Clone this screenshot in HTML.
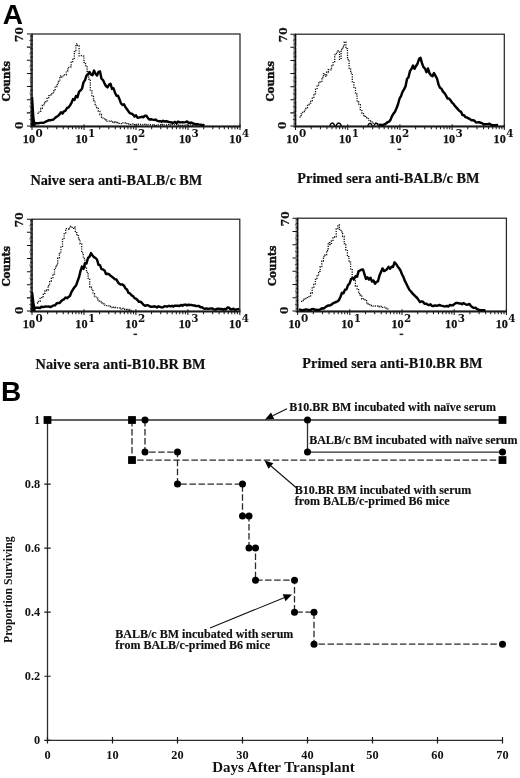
<!DOCTYPE html>
<html><head><meta charset="utf-8"><title>Figure</title>
<style>
html,body{margin:0;padding:0;background:#fff}
svg{display:block}
text{font-family:"Liberation Serif",serif;font-weight:bold;fill:#111}
.big{font-family:"Liberation Sans",sans-serif;font-weight:bold;font-size:28px;fill:#000}
.ax{font-size:12.2px;stroke:#111;stroke-width:0.25px}
.sup{font-size:10.4px;font-family:"DejaVu Serif",serif}
.rot{font-size:10.6px;font-family:"DejaVu Serif",serif;stroke:#111;stroke-width:0.25px}
.cnt{font-size:10.3px;font-family:"DejaVu Serif",serif;stroke:#111;stroke-width:0.45px}
.lab{font-size:14.3px;stroke:#111;stroke-width:0.2px}
.tk{font-size:12.3px}
.an{font-size:12px;stroke:#111;stroke-width:0.15px}
.yl{font-size:12.5px}
.xl{font-size:15px}
.dash{stroke:#2a2a2a;stroke-width:1.3;fill:none;stroke-dasharray:6.5 2.54}
</style></head><body>
<svg width="520" height="778" viewBox="0 0 520 778">
<rect width="520" height="778" fill="#fff"/>
<text x="2.8" y="24" class="big">A</text>
<text x="0.9" y="401" class="big">B</text>
<rect x="32" y="34" width="208" height="92" fill="none" stroke="#262626" stroke-width="1.25"/>
<line x1="30" y1="126.7" x2="240.6" y2="126.7" stroke="#1a1a1a" stroke-width="1.6"/>
<path d="M32 124.2v5.8M47.65 126v3.3M56.81 126v3.3M63.31 126v3.3M68.35 126v3.3M72.46 126v3.3M75.95 126v3.3M78.96 126v3.3M81.62 126v3.3M84 124.2v5.8M99.65 126v3.3M108.81 126v3.3M115.31 126v3.3M120.35 126v3.3M124.46 126v3.3M127.95 126v3.3M130.96 126v3.3M133.62 126v3.3M136 124.2v5.8M151.65 126v3.3M160.81 126v3.3M167.31 126v3.3M172.35 126v3.3M176.46 126v3.3M179.95 126v3.3M182.96 126v3.3M185.62 126v3.3M188 124.2v5.8M203.65 126v3.3M212.81 126v3.3M219.31 126v3.3M224.35 126v3.3M228.46 126v3.3M231.95 126v3.3M234.96 126v3.3M237.62 126v3.3M240 124.2v5.8" stroke="#1a1a1a" stroke-width="1.05" fill="none"/>
<path d="M32.9 124.69h-2.9M32.9 123.37h-2.9M32.9 122.06h-2.9M32.9 120.74h-2.9M32.9 119.43h-3.5M32.9 118.11h-2.9M32.9 116.8h-2.9M32.9 115.49h-2.9M32.9 114.17h-2.9M32.9 111.54h-2.9M32.9 110.23h-2.9M32.9 108.91h-2.9M32.9 107.6h-2.9M32.9 106.29h-3.5M32.9 104.97h-2.9M32.9 103.66h-2.9M32.9 102.34h-2.9M32.9 101.03h-2.9M32.9 98.4h-2.9M32.9 97.09h-2.9M32.9 95.77h-2.9M32.9 94.46h-2.9M32.9 93.14h-3.5M32.9 91.83h-2.9M32.9 90.51h-2.9M32.9 89.2h-2.9M32.9 87.89h-2.9M32.9 85.26h-2.9M32.9 83.94h-2.9M32.9 82.63h-2.9M32.9 81.31h-2.9M32.9 80h-3.5M32.9 78.69h-2.9M32.9 77.37h-2.9M32.9 76.06h-2.9M32.9 74.74h-2.9M32.9 72.11h-2.9M32.9 70.8h-2.9M32.9 69.49h-2.9M32.9 68.17h-2.9M32.9 66.86h-3.5M32.9 65.54h-2.9M32.9 64.23h-2.9M32.9 62.91h-2.9M32.9 61.6h-2.9M32.9 58.97h-2.9M32.9 57.66h-2.9M32.9 56.34h-2.9M32.9 55.03h-2.9M32.9 53.71h-3.5M32.9 52.4h-2.9M32.9 51.09h-2.9M32.9 49.77h-2.9M32.9 48.46h-2.9M32.9 45.83h-2.9M32.9 44.51h-2.9M32.9 43.2h-2.9M32.9 41.89h-2.9M32.9 40.57h-3.5M32.9 39.26h-2.9M32.9 37.94h-2.9M32.9 36.63h-2.9M32.9 35.31h-2.9" stroke="#000" stroke-width="0.78" fill="none"/>
<path d="M32.5 126h-5.6M32.5 112.86h-5.6M32.5 99.71h-5.6M32.5 86.57h-5.6M32.5 73.43h-5.6M32.5 60.29h-5.6M32.5 47.14h-5.6M32.5 34h-5.6" stroke="#111" stroke-width="1.05" fill="none"/>
<path d="M37.5 113.4H39.1V111.4H40.7V108.3H42.3V105.5H43.9V103.0H45.5V101.8H47.1V98.4H48.7V95.6H50.3V95.0H51.9V92.7H53.5V90.9H55.1V86.6H56.7V84.6H58.3V81.3H59.9V75.9H61.5V77.1H63.1V74.9H64.7V74.9H66.3V70.9H67.9V67.3H69.5V66.9H71.1V61.6H72.7V59.4H74.3V51.7H75.9V43.9H77.5V46.0H79.1V55.8H80.7V55.7H82.3V56.1H83.9V62.4H85.5V65.7H87.1V71.3H88.7V79.1H90.3V90.2H91.9V95.6H93.5V100.7H95.1V105.8H96.7V107.6H98.3V111.3H99.9V114.5H101.5V117.3H103.1V118.1H104.7V120.0H106.3V121.3H107.9V121.2H109.5V120.9H111.1V122.1H112.7V121.8H114.3V122.5H115.9V121.9H117.5V122.5H119.1V123.3H120.7V123.6H122.3V122.8H123.9V123.0H125.5V123.6H127.1V124.1H128.7V124.0H130.3V124.3H131.9V124.0H133.5V124.7H135.1V125.0H136.7V124.5H138.3V124.2H139.9V124.4H141.5V124.9H143.1V124.3H144.7V124.7H146.3V124.4H147.9V124.7H149.5V124.7H151.1V124.8H152.7V125.3H154.3V125.0H155.9V125.3H157.5V124.8H159.1V124.7H160.7V125.0H162.3V124.5H163.9V124.9H165.5V125.0H167.1V124.6H168.7V125.1H170.3V124.8H171.9V124.6H173.5V124.9H175.1V124.7H176.7V124.9H178.3V125.0H179.9V125.4H181.5V125.1H183.1V125.1H184.7V125.2H186.3V124.7H187.9V125.5H189.5V124.8H191.1V125.3H192.7V124.8H194.3V124.9H195.9V125.1H197.5V125.5" stroke="#111" stroke-width="1.3" stroke-dasharray="1.2 1.2" fill="none"/>
<path d="M34.0 122.7L35.5 123.3L37.0 123.1L38.5 123.2L40.0 122.9L41.5 122.8L43.0 122.9L44.5 122.3L46.0 121.5L47.5 120.9L49.0 120.1L50.5 120.3L52.0 119.9L53.5 119.5L55.0 118.0L56.5 116.8L58.0 116.0L59.5 114.4L61.0 112.3L62.5 113.5L64.0 111.3L65.5 110.6L67.0 108.0L68.5 107.5L70.0 105.4L71.5 102.8L73.0 99.1L74.5 99.9L76.0 96.0L77.5 97.2L79.0 91.8L80.5 90.4L82.0 88.7L83.5 82.4L85.0 80.1L86.5 75.7L88.0 74.2L89.5 72.0L91.0 74.4L92.5 75.2L94.0 70.6L95.5 73.7L97.0 75.5L98.5 72.0L100.0 71.5L101.5 78.7L103.0 80.1L104.5 83.3L106.0 86.1L107.5 87.4L109.0 84.8L110.5 83.7L112.0 88.9L113.5 88.3L115.0 92.7L116.5 95.8L118.0 95.8L119.5 99.3L121.0 103.4L122.5 105.0L124.0 104.3L125.5 107.3L127.0 109.2L128.5 111.4L130.0 113.3L131.5 113.6L133.0 114.5L134.5 116.4L136.0 115.3L137.5 117.7L139.0 117.5L140.5 117.1L142.0 116.8L143.5 117.2L145.0 115.7L146.5 115.8L148.0 118.1L149.5 119.6L151.0 119.2L152.5 119.6L154.0 119.9L155.5 119.6L157.0 120.7L158.5 121.2L160.0 121.1L161.5 121.7L163.0 120.7L164.5 121.6L166.0 121.2L167.5 121.5L169.0 122.1L170.5 122.2L172.0 122.7L173.5 122.8L175.0 121.9L176.5 123.2L178.0 121.6L179.5 122.3L181.0 122.4L182.5 122.2L184.0 122.4L185.5 122.1L187.0 121.5L188.5 122.8L190.0 122.7L191.5 122.6L193.0 123.5L194.5 123.9L196.0 124.3L197.5 124.1L199.0 124.6L200.5 124.6L202.0 125.2L203.5 125.0" stroke="#000" stroke-width="2.45" stroke-linejoin="round" stroke-linecap="round" fill="none"/>
<path d="M31.4 126V97h1.8L34.6 118L35.6 124V126z" fill="#000"/>
<text x="35" y="143.1" class="ax" text-anchor="end">10</text>
<text x="35.4" y="136.7" class="sup">0</text>
<text x="87.6" y="143.1" class="ax" text-anchor="end">10</text>
<text x="88" y="136.7" class="sup">1</text>
<text x="137.6" y="143.1" class="ax" text-anchor="end">10</text>
<text x="138" y="136.7" class="sup">2</text>
<text x="191.1" y="143.1" class="ax" text-anchor="end">10</text>
<text x="191.5" y="136.7" class="sup">3</text>
<text x="241.5" y="143.1" class="ax" text-anchor="end">10</text>
<text x="241.9" y="136.7" class="sup">4</text>
<text transform="translate(23.4,34.6) rotate(-90)" class="rot" text-anchor="middle">70</text>
<text transform="translate(22.8,125.2) rotate(-90)" class="rot" text-anchor="middle">0</text>
<text transform="translate(10.3,81.2) rotate(-90)" class="cnt" text-anchor="middle">Counts</text>
<rect x="133.6" y="148.6" width="3.6" height="1.5" fill="#222"/>
<text x="30.4" y="184.5" class="lab">Naive sera anti-BALB/c BM</text>
<rect x="295.5" y="34.2" width="208.8" height="91.8" fill="none" stroke="#262626" stroke-width="1.25"/>
<line x1="293.5" y1="126.7" x2="504.9" y2="126.7" stroke="#1a1a1a" stroke-width="1.6"/>
<path d="M295.5 124.2v5.8M311.21 126v3.3M320.41 126v3.3M326.93 126v3.3M331.99 126v3.3M336.12 126v3.3M339.61 126v3.3M342.64 126v3.3M345.31 126v3.3M347.7 124.2v5.8M363.41 126v3.3M372.61 126v3.3M379.13 126v3.3M384.19 126v3.3M388.32 126v3.3M391.81 126v3.3M394.84 126v3.3M397.51 126v3.3M399.9 124.2v5.8M415.61 126v3.3M424.81 126v3.3M431.33 126v3.3M436.39 126v3.3M440.52 126v3.3M444.01 126v3.3M447.04 126v3.3M449.71 126v3.3M452.1 124.2v5.8M467.81 126v3.3M477.01 126v3.3M483.53 126v3.3M488.59 126v3.3M492.72 126v3.3M496.21 126v3.3M499.24 126v3.3M501.91 126v3.3M504.3 124.2v5.8" stroke="#1a1a1a" stroke-width="1.05" fill="none"/>
<path d="M296.4 124.69h-2.9M296.4 123.38h-2.9M296.4 122.07h-2.9M296.4 120.75h-2.9M296.4 119.44h-3.5M296.4 118.13h-2.9M296.4 116.82h-2.9M296.4 115.51h-2.9M296.4 114.2h-2.9M296.4 111.57h-2.9M296.4 110.26h-2.9M296.4 108.95h-2.9M296.4 107.64h-2.9M296.4 106.33h-3.5M296.4 105.02h-2.9M296.4 103.71h-2.9M296.4 102.39h-2.9M296.4 101.08h-2.9M296.4 98.46h-2.9M296.4 97.15h-2.9M296.4 95.84h-2.9M296.4 94.53h-2.9M296.4 93.21h-3.5M296.4 91.9h-2.9M296.4 90.59h-2.9M296.4 89.28h-2.9M296.4 87.97h-2.9M296.4 85.35h-2.9M296.4 84.03h-2.9M296.4 82.72h-2.9M296.4 81.41h-2.9M296.4 80.1h-3.5M296.4 78.79h-2.9M296.4 77.48h-2.9M296.4 76.17h-2.9M296.4 74.85h-2.9M296.4 72.23h-2.9M296.4 70.92h-2.9M296.4 69.61h-2.9M296.4 68.3h-2.9M296.4 66.99h-3.5M296.4 65.67h-2.9M296.4 64.36h-2.9M296.4 63.05h-2.9M296.4 61.74h-2.9M296.4 59.12h-2.9M296.4 57.81h-2.9M296.4 56.49h-2.9M296.4 55.18h-2.9M296.4 53.87h-3.5M296.4 52.56h-2.9M296.4 51.25h-2.9M296.4 49.94h-2.9M296.4 48.63h-2.9M296.4 46h-2.9M296.4 44.69h-2.9M296.4 43.38h-2.9M296.4 42.07h-2.9M296.4 40.76h-3.5M296.4 39.45h-2.9M296.4 38.13h-2.9M296.4 36.82h-2.9M296.4 35.51h-2.9" stroke="#000" stroke-width="0.78" fill="none"/>
<path d="M296 126h-5.6M296 112.89h-5.6M296 99.77h-5.6M296 86.66h-5.6M296 73.54h-5.6M296 60.43h-5.6M296 47.31h-5.6M296 34.2h-5.6" stroke="#111" stroke-width="1.05" fill="none"/>
<path d="M299.5 117.1H301.1V113.8H302.7V112.3H304.3V110.1H305.9V108.5H307.5V104.5H309.1V103.2H310.7V100.7H312.3V98.2H313.9V93.8H315.5V89.3H317.1V85.1H318.7V81.8H320.3V81.4H321.9V77.5H323.5V73.6H325.1V76.4H326.7V72.0H328.3V69.7H329.9V69.9H331.5V65.9H333.1V61.6H334.7V54.8H336.3V52.2H337.9V50.9H339.5V59.3H341.1V49.5H342.7V46.5H344.3V42.1H345.9V48.6H347.5V59.5H349.1V69.2H350.7V73.1H352.3V81.7H353.9V88.1H355.5V94.1H357.1V102.0H358.7V104.7H360.3V110.6H361.9V113.0H363.5V115.6H365.1V116.4H366.7V117.8H368.3V120.3H369.9V121.0H371.5V121.9H373.1V123.1H374.7V123.1H376.3V123.8H377.9V124.9" stroke="#111" stroke-width="1.3" stroke-dasharray="1.2 1.2" fill="none"/>
<path d="M380.0 124.8L381.5 124.9L383.0 124.9L384.5 124.3L386.0 123.5L387.5 122.2L389.0 121.7L390.5 119.9L392.0 116.1L393.5 113.6L395.0 111.8L396.5 108.2L398.0 104.2L399.5 98.7L401.0 96.1L402.5 91.9L404.0 89.4L405.5 86.4L407.0 79.0L408.5 77.2L410.0 71.0L411.5 68.9L413.0 65.5L414.5 68.8L416.0 66.0L417.5 63.8L419.0 59.0L420.5 57.8L422.0 63.2L423.5 67.1L425.0 68.6L426.5 72.2L428.0 68.5L429.5 73.2L431.0 75.3L432.5 76.1L434.0 73.0L435.5 75.8L437.0 78.5L438.5 84.4L440.0 87.7L441.5 88.7L443.0 91.6L444.5 93.1L446.0 95.4L447.5 98.6L449.0 98.5L450.5 100.2L452.0 102.6L453.5 103.9L455.0 106.1L456.5 107.6L458.0 109.4L459.5 111.0L461.0 111.9L462.5 115.0L464.0 115.3L465.5 117.1L467.0 117.5L468.5 118.4L470.0 119.2L471.5 120.2L473.0 120.3L474.5 120.7L476.0 122.5L477.5 122.4L479.0 122.3L480.5 122.7L482.0 123.1L483.5 124.3L485.0 124.2L486.5 124.1L488.0 124.0L489.5 123.8L491.0 124.6L492.5 125.2L494.0 125.2L495.5 125.1L497.0 124.9" stroke="#000" stroke-width="2.45" stroke-linejoin="round" stroke-linecap="round" fill="none"/>
<text x="298.5" y="143.1" class="ax" text-anchor="end">10</text>
<text x="298.9" y="136.7" class="sup">0</text>
<text x="351.3" y="143.1" class="ax" text-anchor="end">10</text>
<text x="351.7" y="136.7" class="sup">1</text>
<text x="401.5" y="143.1" class="ax" text-anchor="end">10</text>
<text x="401.9" y="136.7" class="sup">2</text>
<text x="455.2" y="143.1" class="ax" text-anchor="end">10</text>
<text x="455.6" y="136.7" class="sup">3</text>
<text x="505.8" y="143.1" class="ax" text-anchor="end">10</text>
<text x="506.2" y="136.7" class="sup">4</text>
<text transform="translate(286.9,34.8) rotate(-90)" class="rot" text-anchor="middle">70</text>
<text transform="translate(286.3,125.2) rotate(-90)" class="rot" text-anchor="middle">0</text>
<text transform="translate(273.8,81.3) rotate(-90)" class="cnt" text-anchor="middle">Counts</text>
<rect x="397.5" y="148.6" width="3.6" height="1.5" fill="#222"/>
<text x="297.3" y="182.8" class="lab">Primed sera anti-BALB/c BM</text>
<path d="M329.8 125.8q2.5 -5.4 5 0M336 125.8q2.7 -5.4 5.4 0M367.8 125.8q2.2 -5.2 4.4 0M373.8 125.8q2.4 -5.2 4.8 0" stroke="#000" stroke-width="1.5" fill="none"/>
<rect x="32" y="219.2" width="207.8" height="91.8" fill="none" stroke="#262626" stroke-width="1.25"/>
<line x1="30" y1="311.7" x2="240.4" y2="311.7" stroke="#1a1a1a" stroke-width="1.6"/>
<path d="M32 309.2v5.8M47.64 311v3.3M56.79 311v3.3M63.28 311v3.3M68.31 311v3.3M72.42 311v3.3M75.9 311v3.3M78.92 311v3.3M81.57 311v3.3M83.95 309.2v5.8M99.59 311v3.3M108.74 311v3.3M115.23 311v3.3M120.26 311v3.3M124.37 311v3.3M127.85 311v3.3M130.87 311v3.3M133.52 311v3.3M135.9 309.2v5.8M151.54 311v3.3M160.69 311v3.3M167.18 311v3.3M172.21 311v3.3M176.32 311v3.3M179.8 311v3.3M182.82 311v3.3M185.47 311v3.3M187.85 309.2v5.8M203.49 311v3.3M212.64 311v3.3M219.13 311v3.3M224.16 311v3.3M228.27 311v3.3M231.75 311v3.3M234.77 311v3.3M237.42 311v3.3M239.8 309.2v5.8" stroke="#1a1a1a" stroke-width="1.05" fill="none"/>
<path d="M32.9 309.69h-2.9M32.9 308.38h-2.9M32.9 307.07h-2.9M32.9 305.75h-2.9M32.9 304.44h-3.5M32.9 303.13h-2.9M32.9 301.82h-2.9M32.9 300.51h-2.9M32.9 299.2h-2.9M32.9 296.57h-2.9M32.9 295.26h-2.9M32.9 293.95h-2.9M32.9 292.64h-2.9M32.9 291.33h-3.5M32.9 290.02h-2.9M32.9 288.71h-2.9M32.9 287.39h-2.9M32.9 286.08h-2.9M32.9 283.46h-2.9M32.9 282.15h-2.9M32.9 280.84h-2.9M32.9 279.53h-2.9M32.9 278.21h-3.5M32.9 276.9h-2.9M32.9 275.59h-2.9M32.9 274.28h-2.9M32.9 272.97h-2.9M32.9 270.35h-2.9M32.9 269.03h-2.9M32.9 267.72h-2.9M32.9 266.41h-2.9M32.9 265.1h-3.5M32.9 263.79h-2.9M32.9 262.48h-2.9M32.9 261.17h-2.9M32.9 259.85h-2.9M32.9 257.23h-2.9M32.9 255.92h-2.9M32.9 254.61h-2.9M32.9 253.3h-2.9M32.9 251.99h-3.5M32.9 250.67h-2.9M32.9 249.36h-2.9M32.9 248.05h-2.9M32.9 246.74h-2.9M32.9 244.12h-2.9M32.9 242.81h-2.9M32.9 241.49h-2.9M32.9 240.18h-2.9M32.9 238.87h-3.5M32.9 237.56h-2.9M32.9 236.25h-2.9M32.9 234.94h-2.9M32.9 233.63h-2.9M32.9 231h-2.9M32.9 229.69h-2.9M32.9 228.38h-2.9M32.9 227.07h-2.9M32.9 225.76h-3.5M32.9 224.45h-2.9M32.9 223.13h-2.9M32.9 221.82h-2.9M32.9 220.51h-2.9" stroke="#000" stroke-width="0.78" fill="none"/>
<path d="M32.5 311h-5.6M32.5 297.89h-5.6M32.5 284.77h-5.6M32.5 271.66h-5.6M32.5 258.54h-5.6M32.5 245.43h-5.6M32.5 232.31h-5.6M32.5 219.2h-5.6" stroke="#111" stroke-width="1.05" fill="none"/>
<path d="M36.9 303.0H38.5V301.3H40.1V297.6H41.7V296.6H43.3V293.3H44.9V290.9H46.5V290.0H48.1V285.5H49.7V281.0H51.3V277.7H52.9V274.1H54.5V268.2H56.1V265.0H57.7V258.1H59.3V253.3H60.9V247.2H62.5V239.3H64.1V233.8H65.7V228.7H67.3V229.0H68.9V227.8H70.5V226.4H72.1V228.3H73.7V227.1H75.3V232.6H76.9V235.7H78.5V239.5H80.1V243.9H81.7V252.9H83.3V258.4H84.9V267.0H86.5V272.3H88.1V278.4H89.7V287.1H91.3V289.2H92.9V293.7H94.5V296.1H96.1V298.1H97.7V299.9H99.3V301.4H100.9V303.1H102.5V303.8H104.1V305.1H105.7V305.6H107.3V305.8H108.9V306.5H110.5V306.6H112.1V307.7H113.7V307.1H115.3V307.5H116.9V307.9H118.5V308.0H120.1V309.2H121.7V308.5H123.3V309.1H124.9V309.3H126.5V310.1H128.1V309.5H129.7V310.5H131.3V310.2" stroke="#111" stroke-width="1.3" stroke-dasharray="1.2 1.2" fill="none"/>
<path d="M34.0 307.5L35.5 307.8L37.0 307.7L38.5 307.7L40.0 308.0L41.5 306.7L43.0 307.1L44.5 306.8L46.0 306.4L47.5 306.6L49.0 306.5L50.5 307.1L52.0 306.2L53.5 305.5L55.0 305.4L56.5 303.5L58.0 303.0L59.5 303.1L61.0 301.4L62.5 300.0L64.0 299.3L65.5 297.5L67.0 298.2L68.5 297.1L70.0 295.8L71.5 291.9L73.0 289.5L74.5 287.2L76.0 285.7L77.5 281.3L79.0 277.3L80.5 271.0L82.0 266.6L83.5 268.9L85.0 263.1L86.5 263.5L88.0 258.0L89.5 256.8L91.0 253.1L92.5 255.5L94.0 257.1L95.5 258.0L97.0 259.5L98.5 264.8L100.0 265.1L101.5 269.1L103.0 269.4L104.5 270.4L106.0 274.0L107.5 273.8L109.0 274.1L110.5 275.8L112.0 276.8L113.5 277.9L115.0 279.3L116.5 279.5L118.0 282.3L119.5 283.8L121.0 284.6L122.5 284.5L124.0 285.7L125.5 288.5L127.0 289.5L128.5 292.9L130.0 293.4L131.5 295.3L133.0 296.0L134.5 298.1L136.0 298.7L137.5 300.0L139.0 301.9L140.5 301.8L142.0 303.0L143.5 304.8L145.0 305.8L146.5 305.3L148.0 305.3L149.5 306.3L151.0 306.7L152.5 306.8L154.0 306.3L155.5 306.7L157.0 307.5L158.5 306.3L160.0 306.8L161.5 307.4L163.0 307.2L164.5 306.3L166.0 306.4L167.5 306.4L169.0 305.8L170.5 306.4L172.0 305.8L173.5 306.6L175.0 305.6L176.5 305.8L178.0 305.7L179.5 306.0L181.0 304.9L182.5 305.8L184.0 304.7L185.5 304.6L187.0 305.4L188.5 304.7L190.0 305.0L191.5 304.9L193.0 305.4L194.5 305.4L196.0 306.1L197.5 306.0L199.0 306.0L200.5 307.3L202.0 307.2L203.5 308.4L205.0 308.8L206.5 308.4L208.0 308.9L209.5 308.6L211.0 308.5L212.5 308.5L214.0 309.4L215.5 309.6L217.0 308.8L218.5 308.8L220.0 309.0L221.5 308.9L223.0 309.7L224.5 309.0L226.0 309.4L227.5 307.5L229.0 307.7L230.5 309.3L232.0 309.3L233.5 308.7L235.0 309.9L236.5 309.4L238.0 309.1" stroke="#000" stroke-width="2.45" stroke-linejoin="round" stroke-linecap="round" fill="none"/>
<path d="M31.4 311V292h1.8L34.6 303L35.6 309V311z" fill="#000"/>
<text x="35" y="328.1" class="ax" text-anchor="end">10</text>
<text x="35.4" y="321.7" class="sup">0</text>
<text x="87.55" y="328.1" class="ax" text-anchor="end">10</text>
<text x="87.95" y="321.7" class="sup">1</text>
<text x="137.5" y="328.1" class="ax" text-anchor="end">10</text>
<text x="137.9" y="321.7" class="sup">2</text>
<text x="190.95" y="328.1" class="ax" text-anchor="end">10</text>
<text x="191.35" y="321.7" class="sup">3</text>
<text x="241.3" y="328.1" class="ax" text-anchor="end">10</text>
<text x="241.7" y="321.7" class="sup">4</text>
<text transform="translate(23.4,219.8) rotate(-90)" class="rot" text-anchor="middle">70</text>
<text transform="translate(22.8,310.2) rotate(-90)" class="rot" text-anchor="middle">0</text>
<text transform="translate(10.3,266.3) rotate(-90)" class="cnt" text-anchor="middle">Counts</text>
<rect x="133.5" y="333.6" width="3.6" height="1.5" fill="#222"/>
<text x="35.6" y="369.2" class="lab">Naive sera anti-B10.BR BM</text>
<rect x="297.6" y="218.2" width="208.8" height="92.8" fill="none" stroke="#262626" stroke-width="1.25"/>
<line x1="295.6" y1="311.7" x2="507" y2="311.7" stroke="#1a1a1a" stroke-width="1.6"/>
<path d="M297.6 309.2v5.8M313.31 311v3.3M322.51 311v3.3M329.03 311v3.3M334.09 311v3.3M338.22 311v3.3M341.71 311v3.3M344.74 311v3.3M347.41 311v3.3M349.8 309.2v5.8M365.51 311v3.3M374.71 311v3.3M381.23 311v3.3M386.29 311v3.3M390.42 311v3.3M393.91 311v3.3M396.94 311v3.3M399.61 311v3.3M402 309.2v5.8M417.71 311v3.3M426.91 311v3.3M433.43 311v3.3M438.49 311v3.3M442.62 311v3.3M446.11 311v3.3M449.14 311v3.3M451.81 311v3.3M454.2 309.2v5.8M469.91 311v3.3M479.11 311v3.3M485.63 311v3.3M490.69 311v3.3M494.82 311v3.3M498.31 311v3.3M501.34 311v3.3M504.01 311v3.3M506.4 309.2v5.8" stroke="#1a1a1a" stroke-width="1.05" fill="none"/>
<path d="M298.5 309.67h-2.9M298.5 308.35h-2.9M298.5 307.02h-2.9M298.5 305.7h-2.9M298.5 304.37h-3.5M298.5 303.05h-2.9M298.5 301.72h-2.9M298.5 300.39h-2.9M298.5 299.07h-2.9M298.5 296.42h-2.9M298.5 295.09h-2.9M298.5 293.77h-2.9M298.5 292.44h-2.9M298.5 291.11h-3.5M298.5 289.79h-2.9M298.5 288.46h-2.9M298.5 287.14h-2.9M298.5 285.81h-2.9M298.5 283.16h-2.9M298.5 281.83h-2.9M298.5 280.51h-2.9M298.5 279.18h-2.9M298.5 277.86h-3.5M298.5 276.53h-2.9M298.5 275.21h-2.9M298.5 273.88h-2.9M298.5 272.55h-2.9M298.5 269.9h-2.9M298.5 268.58h-2.9M298.5 267.25h-2.9M298.5 265.93h-2.9M298.5 264.6h-3.5M298.5 263.27h-2.9M298.5 261.95h-2.9M298.5 260.62h-2.9M298.5 259.3h-2.9M298.5 256.65h-2.9M298.5 255.32h-2.9M298.5 253.99h-2.9M298.5 252.67h-2.9M298.5 251.34h-3.5M298.5 250.02h-2.9M298.5 248.69h-2.9M298.5 247.37h-2.9M298.5 246.04h-2.9M298.5 243.39h-2.9M298.5 242.06h-2.9M298.5 240.74h-2.9M298.5 239.41h-2.9M298.5 238.09h-3.5M298.5 236.76h-2.9M298.5 235.43h-2.9M298.5 234.11h-2.9M298.5 232.78h-2.9M298.5 230.13h-2.9M298.5 228.81h-2.9M298.5 227.48h-2.9M298.5 226.15h-2.9M298.5 224.83h-3.5M298.5 223.5h-2.9M298.5 222.18h-2.9M298.5 220.85h-2.9M298.5 219.53h-2.9" stroke="#000" stroke-width="0.78" fill="none"/>
<path d="M298.1 311h-5.6M298.1 297.74h-5.6M298.1 284.49h-5.6M298.1 271.23h-5.6M298.1 257.97h-5.6M298.1 244.71h-5.6M298.1 231.46h-5.6M298.1 218.2h-5.6" stroke="#111" stroke-width="1.05" fill="none"/>
<path d="M301.0 301.3H302.6V300.5H304.2V298.8H305.8V298.3H307.4V297.6H309.0V295.8H310.6V293.0H312.2V287.3H313.8V284.5H315.4V279.4H317.0V274.9H318.6V271.4H320.2V266.6H321.8V261.1H323.4V256.5H325.0V254.8H326.6V250.5H328.2V242.7H329.8V244.5H331.4V241.0H333.0V237.7H334.6V236.7H336.2V228.9H337.8V225.0H339.4V229.4H341.0V232.0H342.6V236.5H344.2V243.6H345.8V249.9H347.4V256.6H349.0V262.2H350.6V269.6H352.2V277.3H353.8V280.3H355.4V286.0H357.0V289.7H358.6V293.6H360.2V295.0H361.8V299.0H363.4V298.9H365.0V300.7H366.6V302.8H368.2V304.0H369.8V305.4H371.4V305.9H373.0V306.2H374.6V306.0H376.2V306.0H377.8V306.8H379.4V306.5H381.0V306.4H382.6V307.4H384.2V307.1H385.8V308.1H387.4V308.8H389.0V309.1" stroke="#111" stroke-width="1.3" stroke-dasharray="1.2 1.2" fill="none"/>
<path d="M300.0 309.6L301.5 310.2L303.0 310.2L304.5 309.8L306.0 309.3L307.5 309.8L309.0 310.0L310.5 310.2L312.0 309.1L313.5 309.0L315.0 309.9L316.5 309.7L318.0 310.1L319.5 309.8L321.0 308.9L322.5 308.2L324.0 308.5L325.5 307.0L327.0 306.2L328.5 305.4L330.0 305.4L331.5 304.6L333.0 303.3L334.5 302.6L336.0 302.0L337.5 301.4L339.0 300.0L340.5 296.7L342.0 292.8L343.5 293.3L345.0 289.7L346.5 289.4L348.0 285.2L349.5 283.6L351.0 279.3L352.5 278.1L354.0 279.1L355.5 276.2L357.0 276.8L358.5 271.4L360.0 270.5L361.5 269.7L363.0 269.5L364.5 274.3L366.0 278.9L367.5 277.4L369.0 279.6L370.5 277.7L372.0 281.6L373.5 280.5L375.0 283.6L376.5 281.9L378.0 281.3L379.5 275.5L381.0 272.0L382.5 268.4L384.0 271.1L385.5 270.4L387.0 269.2L388.5 266.9L390.0 268.8L391.5 266.8L393.0 267.0L394.5 262.3L396.0 263.9L397.5 266.2L399.0 268.2L400.5 270.5L402.0 274.2L403.5 277.3L405.0 281.2L406.5 284.0L408.0 287.2L409.5 290.0L411.0 291.5L412.5 293.5L414.0 294.9L415.5 296.5L417.0 297.8L418.5 299.9L420.0 302.0L421.5 301.4L423.0 301.7L424.5 303.7L426.0 303.6L427.5 304.6L429.0 305.1L430.5 304.3L432.0 306.0L433.5 306.0L435.0 305.4L436.5 305.8L438.0 305.5L439.5 305.0L441.0 305.6L442.5 305.9L444.0 306.4L445.5 306.3L447.0 306.0L448.5 306.5L450.0 304.9L451.5 305.4L453.0 305.2L454.5 303.9L456.0 302.9L457.5 302.9L459.0 303.4L460.5 303.4L462.0 304.3L463.5 303.1L465.0 304.0L466.5 304.7L468.0 304.5L469.5 304.0L471.0 306.1L472.5 307.3L474.0 307.9L475.5 307.8L477.0 309.0L478.5 309.7L480.0 310.2L481.5 310.2L483.0 310.1L484.5 310.2" stroke="#000" stroke-width="2.45" stroke-linejoin="round" stroke-linecap="round" fill="none"/>
<text x="300.6" y="328.1" class="ax" text-anchor="end">10</text>
<text x="301" y="321.7" class="sup">0</text>
<text x="353.4" y="328.1" class="ax" text-anchor="end">10</text>
<text x="353.8" y="321.7" class="sup">1</text>
<text x="403.6" y="328.1" class="ax" text-anchor="end">10</text>
<text x="404" y="321.7" class="sup">2</text>
<text x="457.3" y="328.1" class="ax" text-anchor="end">10</text>
<text x="457.7" y="321.7" class="sup">3</text>
<text x="507.9" y="328.1" class="ax" text-anchor="end">10</text>
<text x="508.3" y="321.7" class="sup">4</text>
<text transform="translate(289,218.8) rotate(-90)" class="rot" text-anchor="middle">70</text>
<text transform="translate(288.4,310.2) rotate(-90)" class="rot" text-anchor="middle">0</text>
<text transform="translate(275.9,265.8) rotate(-90)" class="cnt" text-anchor="middle">Counts</text>
<rect x="399.6" y="333.6" width="3.6" height="1.5" fill="#222"/>
<text x="302.3" y="368" class="lab">Primed sera anti-B10.BR BM</text>
<path d="M47.5 420V740.3H502.5" stroke="#2e2e2e" stroke-width="1.3" fill="none"/>
<path d="M47.5 737.1v6.4M112.5 737.1v6.4M177.5 737.1v6.4M242.5 737.1v6.4M307.5 737.1v6.4M372.5 737.1v6.4M437.5 737.1v6.4M502.5 737.1v6.4M44.3 740.3h6.4M44.3 676.24h6.4M44.3 612.18h6.4M44.3 548.12h6.4M44.3 484.06h6.4M44.3 420h6.4" stroke="#1a1a1a" stroke-width="1.2" fill="none"/>
<text x="47.5" y="758.7" class="tk" text-anchor="middle">0</text>
<text x="112.5" y="758.7" class="tk" text-anchor="middle">10</text>
<text x="177.5" y="758.7" class="tk" text-anchor="middle">20</text>
<text x="242.5" y="758.7" class="tk" text-anchor="middle">30</text>
<text x="307.5" y="758.7" class="tk" text-anchor="middle">40</text>
<text x="372.5" y="758.7" class="tk" text-anchor="middle">50</text>
<text x="437.5" y="758.7" class="tk" text-anchor="middle">60</text>
<text x="502.5" y="758.7" class="tk" text-anchor="middle">70</text>
<text x="40.2" y="744.2" class="tk" text-anchor="end">0</text>
<text x="40.2" y="680.14" class="tk" text-anchor="end">0.2</text>
<text x="40.2" y="616.08" class="tk" text-anchor="end">0.4</text>
<text x="40.2" y="552.02" class="tk" text-anchor="end">0.6</text>
<text x="40.2" y="487.96" class="tk" text-anchor="end">0.8</text>
<text x="40.2" y="423.9" class="tk" text-anchor="end">1</text>
<path d="M47.5 420H502.5" stroke="#2e2e2e" stroke-width="1.3" fill="none"/>
<path d="M307.5 420V452.03H502.5" stroke="#2e2e2e" stroke-width="1.3" fill="none"/>
<path d="M132 420V460.04H502.5" class="dash"/>
<path d="M145 420 L145 452.03 L177.5 452.03 L177.5 484.06 L242.5 484.06 L242.5 516.09 L249 516.09 L249 548.12 L255.5 548.12 L255.5 580.15 L294.5 580.15 L294.5 612.18 L314 612.18 L314 644.21 L502.5 644.21" class="dash"/>
<rect x="43.6" y="416.1" width="7.8" height="7.8" fill="#000"/>
<rect x="128.1" y="416.1" width="7.8" height="7.8" fill="#000"/>
<rect x="498.6" y="416.1" width="7.8" height="7.8" fill="#000"/>
<rect x="128.1" y="456.14" width="7.8" height="7.8" fill="#000"/>
<rect x="498.6" y="456.14" width="7.8" height="7.8" fill="#000"/>
<circle cx="145" cy="420" r="3.5" fill="#000"/>
<circle cx="307.5" cy="420" r="3.5" fill="#000"/>
<circle cx="307.5" cy="452.03" r="3.5" fill="#000"/>
<circle cx="502.5" cy="452.03" r="3.5" fill="#000"/>
<circle cx="145" cy="452.03" r="3.5" fill="#000"/>
<circle cx="177.5" cy="452.03" r="3.5" fill="#000"/>
<circle cx="177.5" cy="484.06" r="3.5" fill="#000"/>
<circle cx="242.5" cy="484.06" r="3.5" fill="#000"/>
<circle cx="242.5" cy="516.09" r="3.5" fill="#000"/>
<circle cx="249" cy="516.09" r="3.5" fill="#000"/>
<circle cx="249" cy="548.12" r="3.5" fill="#000"/>
<circle cx="255.5" cy="548.12" r="3.5" fill="#000"/>
<circle cx="255.5" cy="580.15" r="3.5" fill="#000"/>
<circle cx="294.5" cy="580.15" r="3.5" fill="#000"/>
<circle cx="294.5" cy="612.18" r="3.5" fill="#000"/>
<circle cx="314" cy="612.18" r="3.5" fill="#000"/>
<circle cx="314" cy="644.21" r="3.5" fill="#000"/>
<circle cx="502.5" cy="644.21" r="3.5" fill="#000"/>
<line x1="287" y1="408.7" x2="272.63" y2="415.75" stroke="#111" stroke-width="1.1"/><polygon points="265,419.5 271,412.43 274.26,419.08" fill="#000"/>
<line x1="296" y1="487.5" x2="270.95" y2="466.03" stroke="#111" stroke-width="1.1"/><polygon points="264.5,460.5 273.36,463.22 268.55,468.84" fill="#000"/>
<line x1="210" y1="628" x2="284.13" y2="597.71" stroke="#111" stroke-width="1.1"/><polygon points="292,594.5 285.53,601.14 282.73,594.29" fill="#000"/>
<text x="289.3" y="410.5" class="an">B10.BR BM incubated with naïve serum</text>
<text x="309.2" y="443.6" class="an">BALB/c BM incubated with naïve serum</text>
<text x="294.8" y="493.5" class="an">B10.BR BM incubated with serum</text>
<text x="294.8" y="505" class="an">from BALB/c-primed B6 mice</text>
<text x="115.3" y="637.9" class="an">BALB/c BM incubated with serum</text>
<text x="115.3" y="649.4" class="an">from BALB/c-primed B6 mice</text>
<text transform="translate(11.5,589.7) rotate(-90)" class="yl" text-anchor="middle" textLength="106.6" lengthAdjust="spacingAndGlyphs">Proportion Surviving</text>
<text x="283.5" y="771.6" class="xl" text-anchor="middle">Days After Transplant</text>
</svg>
</body></html>
